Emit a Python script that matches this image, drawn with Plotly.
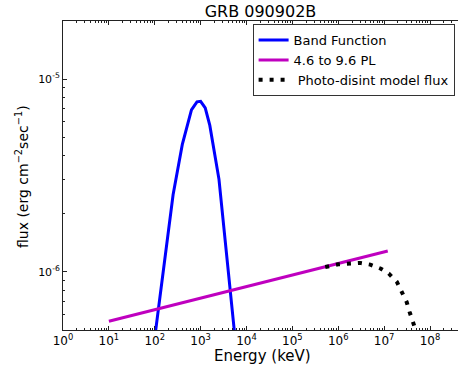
import plotly.graph_objects as go

# Band function
band_energy = [100, 158, 251, 398, 631, 832, 1000, 1259, 1585, 2512, 3981, 6310]
band_flux = [4.57e-7, 1.07e-6, 2.51e-6, 4.57e-6, 6.92e-6, 7.62e-6, 7.67e-6, 7.08e-6, 5.75e-6, 3.02e-6, 1.0e-6, 3.47e-7]

# 4.6 to 9.6 PL
pl_energy = [10, 1.2e7]
pl_flux = [5.55e-7, 1.285e-6]

# Photo-disint model flux
pd_energy = [5.2e5, 1.0e6, 3.0e6, 5.0e6, 8.3e6, 1.26e7, 1.9e7, 2.45e7, 3.1e7, 3.6e7, 4.3e7, 4.85e7, 5.6e7]
pd_flux = [1.06e-6, 1.096e-6, 1.114e-6, 1.091e-6, 1.042e-6, 0.982e-6, 0.887e-6, 0.787e-6, 0.698e-6, 0.619e-6, 0.55e-6, 0.5e-6, 0.42e-6]

x_tickvals = [1, 10, 100, 1e3, 1e4, 1e5, 1e6, 1e7, 1e8]
x_ticktext = ["10<sup>0</sup>", "10<sup>1</sup>", "10<sup>2</sup>", "10<sup>3</sup>", "10<sup>4</sup>",
              "10<sup>5</sup>", "10<sup>6</sup>", "10<sup>7</sup>", "10<sup>8</sup>"]
y_tickvals = [1e-6, 1e-5]
y_ticktext = ["10<sup>-6</sup>", "10<sup>-5</sup>"]

FONT = "DejaVu Sans"

fig = go.Figure()
fig.add_trace(go.Scatter(x=band_energy, y=band_flux, mode="lines", name="Band Function",
                         line=dict(color="#0000ff", width=3)))
fig.add_trace(go.Scatter(x=pl_energy, y=pl_flux, mode="lines", name="4.6 to 9.6 PL",
                         line=dict(color="#bf00bf", width=3)))
fig.add_trace(go.Scatter(x=pd_energy, y=pd_flux, mode="lines", name=" Photo-disint model flux",
                         line=dict(color="black", width=4, dash="4px,7px")))

fig.update_layout(
    width=458, height=370,
    margin=dict(l=63, r=0, t=21, b=40, autoexpand=False),
    paper_bgcolor="white", plot_bgcolor="white",
    font=dict(family=FONT, color="black"),
    title=dict(text="GRB 090902B", x=0.5, xref="paper", xanchor="center",
               y=1 - 11 / 370, yref="container", yanchor="middle",
               font=dict(size=16, family=FONT, color="black")),
    showlegend=True,
    legend=dict(x=0.48, y=0.99, xanchor="left", yanchor="top",
                bordercolor="#333", borderwidth=1, bgcolor="white",
                font=dict(size=13, family=FONT), itemwidth=30, tracegroupgap=0),
    annotations=[
        dict(text="Energy (keV)", xref="paper", yref="paper", x=0.504, y=-0.084,
             xanchor="center", yanchor="middle", showarrow=False,
             font=dict(size=15, family=FONT, color="black")),
        dict(text="flux (erg cm<sup>−2</sup>sec<sup>−1</sup>)", xref="paper", yref="paper",
             x=-0.104, y=0.498, xanchor="center", yanchor="middle", showarrow=False,
             textangle=-90, font=dict(size=14, family=FONT, color="black")),
    ],
)

fig.update_xaxes(
    type="log", range=[0, 8.61], automargin=False,
    tickvals=x_tickvals, ticktext=x_ticktext,
    ticks="inside", ticklen=4, tickcolor="#222", tickwidth=1,
    minor=dict(ticks="inside", ticklen=2, tickcolor="#222", dtick="D1", showgrid=False),
    showline=True, linecolor="#222", linewidth=1, mirror="ticks",
    showgrid=False, zeroline=False,
    tickfont=dict(size=12, family=FONT),
)
fig.update_yaxes(
    type="log", range=[-6.301, -4.699], automargin=False,
    tickvals=y_tickvals, ticktext=y_ticktext,
    ticks="inside", ticklen=4, tickcolor="#222", tickwidth=1,
    minor=dict(ticks="inside", ticklen=2, tickcolor="#222", dtick="D1", showgrid=False),
    showline=True, linecolor="#222", linewidth=1,
    showgrid=False, zeroline=False,
    tickfont=dict(size=11, family=FONT),
)

fig.write_html("out.html", config={"displayModeBar": False},
               post_script="document.body.style.margin='0';")
